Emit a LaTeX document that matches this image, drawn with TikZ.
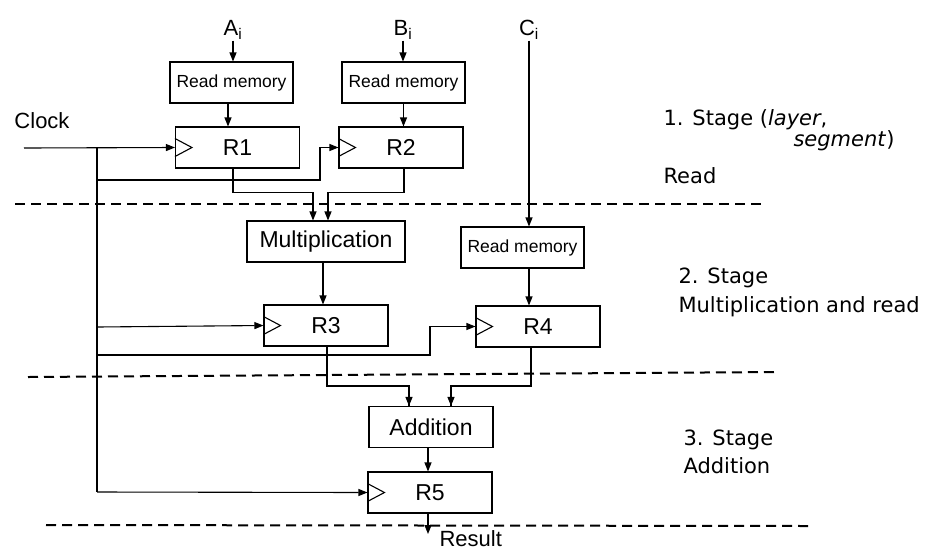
\documentclass[tikz,border=0pt]{standalone}
\usepackage{fontspec}
\setmainfont{Liberation Sans}
\newfontfamily\stagefont{DejaVu Sans}
\usetikzlibrary{arrows.meta}
\begin{document}
\begin{tikzpicture}[x=1pt, y=-1pt, line width=1.1pt,
    >={Triangle[length=9pt, width=7pt]},
    readbox/.style={draw, minimum width=123pt, minimum height=41pt, inner sep=0pt, font=\fontsize{17.5}{20}\selectfont},
    regbox/.style={draw, minimum width=124pt, minimum height=41pt, inner sep=0pt, font=\fontsize{23}{26}\selectfont},
    txt/.style={font=\fontsize{22}{26}\selectfont, inner sep=1pt},
    stagetxt/.style={font=\stagefont\fontsize{21}{25}\selectfont, inner sep=0pt},
    bus/.style={line width=2pt},
    stagesep/.style={line width=2pt, dash pattern=on 10pt off 6pt}]
    \useasboundingbox (0,0) rectangle (936,550);
    \node[txt, anchor=base] (ai) at (233,35) {A\textsubscript{i}};
    \node[txt, anchor=base] (bi) at (403,35) {B\textsubscript{i}};
    \node[txt, anchor=base] (ci) at (529,35) {C\textsubscript{i}};
    \node[txt] (clock) at (42,121) {Clock};
    \node[readbox] (rm1) at (231.5,82.5) {Read memory};
    \node[readbox] (rm2) at (403.5,82.5) {Read memory};
    \node[readbox] (rm3) at (522.5,247.5) {Read memory};
    \node[regbox] (r1) at (237.5,147.5) {R1};
    \node[regbox] (r2) at (401,147.5) {R2};
    \node[regbox, minimum width=158pt] (mul) at (326,241.5) {Multiplication};
    \node[regbox] (r3) at (326,325.5) {R3};
    \node[regbox] (r4) at (538,326.5) {R4};
    \node[regbox] (add) at (431,427) {Addition};
    \node[regbox] (r5) at (430,492.5) {R5};
    \node[txt, anchor=north west] (res) at (438,529) {Result};
    \coordinate (clkin) at (24,148);
    \coordinate (out) at (428,534);
    \foreach \r in {r1,r2,r3,r4,r5}
        \draw ([yshift=9pt]\r.west) -- ([xshift=17pt]\r.west) -- ([yshift=-9pt]\r.west);
    \draw[->] (ai.south) -- (ai.south |- rm1.north);
    \draw[->] (bi.south) -- (bi.south |- rm2.north);
    \draw[->] (ci.south) -- (ci.south |- rm3.north);
    \draw[->] ([xshift=-3.5pt]rm1.south) -- ([xshift=-3.5pt]rm1.south |- r1.north);
    \draw[->] (rm2.south) -- (rm2.south |- r2.north);
    \draw[->] (ci.south |- rm3.south) -- (ci.south |- r4.north);
    \draw[->] (clkin) -- (r1.west);
    \draw[bus] (97,148) -- (97,492);
    \draw[->] (97,492) -- (r5.west);
    \draw[->] (97,180) -- (320,180) |- (r2.west);
    \draw[->] (97,327) -- (r3.west);
    \draw[->] (97,355) -- (430,355) |- (r4.west);
    \draw[->] ([xshift=-4.5pt]r1.south) -- ++(0,24) -| ([xshift=-13pt]mul.north);
    \draw[->] ([xshift=3pt]r2.south) -- ++(0,24) -| ([xshift=2pt]mul.north);
    \draw[->] ([xshift=-3pt]mul.south) -- ([xshift=-3pt]mul.south |- r3.north);
    \draw[bus] ([xshift=1pt]r3.south) -- ++(0,39) -| ([xshift=-22pt]add.north);
    \draw[bus] ([xshift=-7pt]r4.south) -- ++(0,38) -| ([xshift=20pt]add.north);
    \draw[->] ([xshift=-22pt]add.north) ++(0,-1) -- ([xshift=-22pt]add.north);
    \draw[->] ([xshift=20pt]add.north) ++(0,-1) -- ([xshift=20pt]add.north);
    \draw[->] ([xshift=-3pt]add.south) -- ([xshift=-3pt]add.south |- r5.north);
    \draw[->] ([xshift=-2pt]r5.south) -- (out);
    \draw[stagesep] (15,204) -- (765,204);
    \draw[stagesep] (28,377) -- (778,372);
    \draw[stagesep] (46,525) -- (810,526);
    \node[stagetxt, anchor=base west] (s1a) at (663,125) {1. Stage (\textit{layer},};
    \node[stagetxt, anchor=base east] (s1b) at (895,146) {\textit{segment})};
    \node[stagetxt, anchor=base west] (s1c) at (663,183) {Read};
    \node[stagetxt, anchor=base west] (s2a) at (678,283) {2. Stage};
    \node[stagetxt, anchor=base west] (s2b) at (678,312) {Multiplication and read};
    \node[stagetxt, anchor=base west] (s3a) at (683,445) {3. Stage};
    \node[stagetxt, anchor=base west] (s3b) at (683,473) {Addition};
\end{tikzpicture}
\end{document}
